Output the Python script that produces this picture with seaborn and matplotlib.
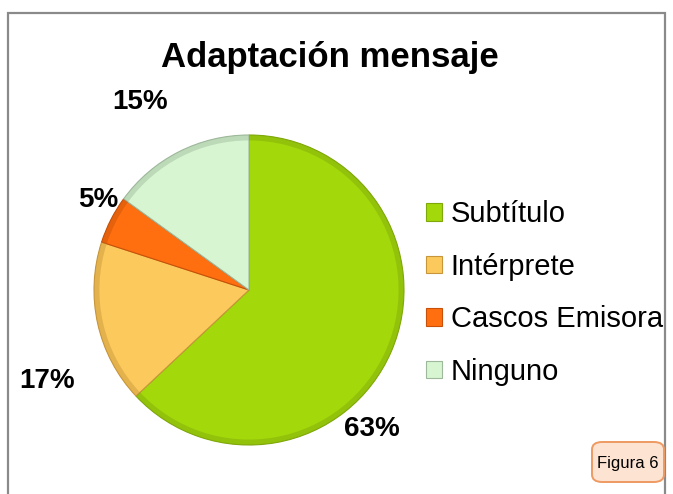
import seaborn as sns
import matplotlib.pyplot as plt
from matplotlib.patches import Rectangle, FancyBboxPatch

# Data
categories = ['Subtítulo', 'Intérprete', 'Cascos Emisora', 'Ninguno']
shares = [63, 17, 5, 15]
colors = ['#A3D80B', '#FCC95C', '#FF6F10', '#D7F5D1']
edge_colors = ['#7FA80A', '#C8963A', '#C85008', '#9DB89A']

# where each percentage label sits (units of the pie radius)
label_pos = [(0.79, -0.90), (-1.30, -0.59), (-0.97, 0.58), (-0.70, 1.21)]

sns.set_theme(style='white')
plt.rcParams['font.family'] = ['Liberation Sans', 'DejaVu Sans']

fig = plt.figure(figsize=(6.73, 4.94), dpi=100)
W, H = 673, 494

# outer chart border (runs off the bottom of the picture)
fig.patches.append(Rectangle((8 / W, -0.05), 657 / W, 1 - 13 / H + 0.05,
                             transform=fig.transFigure, fill=False,
                             edgecolor='#8a8a8a', linewidth=1.6))

# pie axes: centre (249, 290), radius 155 px
cx, cy, r = 249, 290, 155
ax = fig.add_axes([(cx - r) / W, (H - cy - r) / H, 2 * r / W, 2 * r / H])
wedges, _ = ax.pie(shares, colors=colors, startangle=90, counterclock=False,
                   radius=1, wedgeprops=dict(linewidth=0.8))
for w, ec in zip(wedges, edge_colors):
    w.set_edgecolor(ec)

# soft darker rim to hint at the bevel of the original
ax.pie(shares, colors=edge_colors, startangle=90, counterclock=False,
       radius=1, wedgeprops=dict(width=0.035, linewidth=0, alpha=0.45))

ax.set_xlim(-1, 1)
ax.set_ylim(-1, 1)
ax.set_aspect('equal')
ax.axis('off')

for val, (lx, ly) in zip(shares, label_pos):
    ax.text(lx, ly, f'{val}%', ha='center', va='center', fontsize=20,
            fontweight='bold', color='black', clip_on=False)

fig.text(330 / W, 1 - 58 / H, 'Adaptación mensaje', ha='center', va='center',
         fontsize=25, fontweight='bold', color='black')

leg = fig.legend(wedges, categories, loc='center left',
                 bbox_to_anchor=(426 / W, 1 - 293 / H), frameon=False,
                 fontsize=21, handlelength=0.55, handleheight=0.55,
                 handletextpad=0.3, labelspacing=0.84, borderpad=0,
                 borderaxespad=0)
for t in leg.get_texts():
    t.set_color('black')

# "Figura 6" tag
fig.patches.append(FancyBboxPatch((592 / W, 1 - 482 / H), 72 / W, 40 / H,
                                  boxstyle='round,pad=0,rounding_size=0.015',
                                  transform=fig.transFigure,
                                  facecolor='#FDE3D2', edgecolor='#EE9A62',
                                  linewidth=1.4))
fig.text(628 / W, 1 - 463 / H, 'Figura 6', ha='center', va='center',
         fontsize=12, color='black')

fig.savefig('out.png', dpi=100)
